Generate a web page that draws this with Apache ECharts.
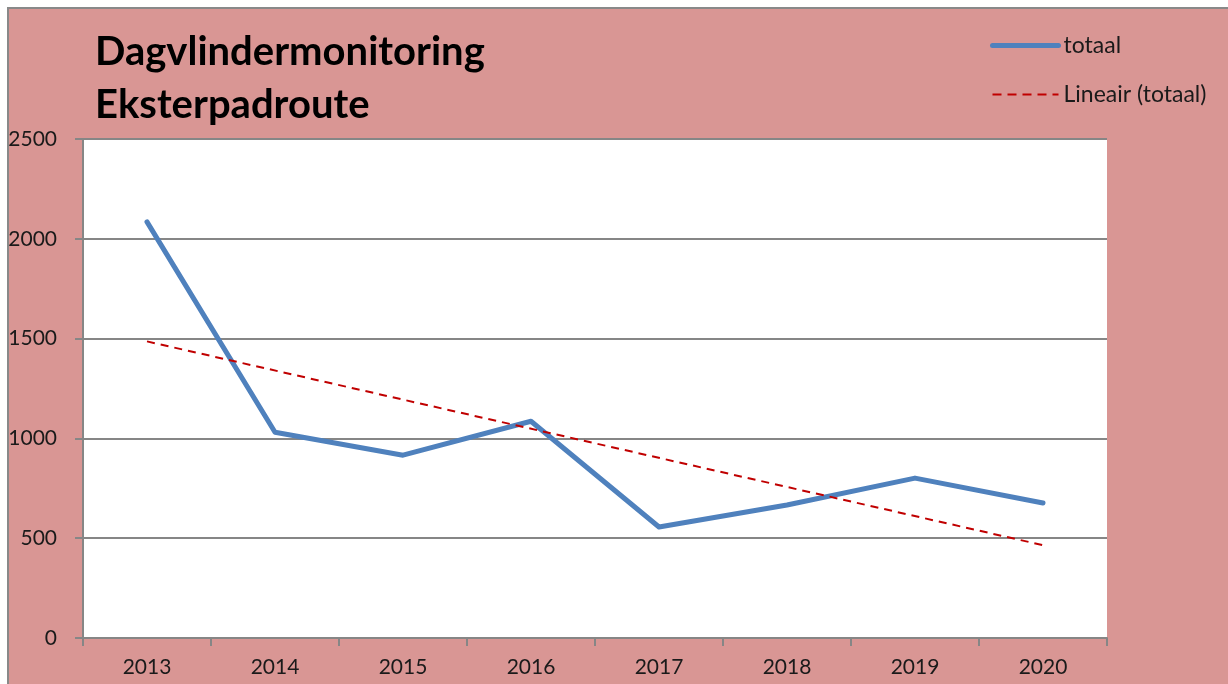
<!DOCTYPE html>
<html>
<head>
<meta charset="utf-8">
<script src="https://cdn.jsdelivr.net/npm/echarts@6/dist/echarts.min.js"></script>
<style>
	html, body { margin: 0; padding: 0; background: #fff; overflow: hidden; }
	#chart {
		position: absolute; left: 7px; top: 7px;
		width: 1221px; height: 677px;
		border-left: 2px solid #898989; border-top: 2px solid #898989;
		background: #D99694;
	}
</style>
</head>
<body>
<div id="chart"></div>
<script>
var years = ['2013', '2014', '2015', '2016', '2017', '2018', '2019', '2020'];
var totaal = [2085, 1031, 916, 1086, 556, 666, 801, 676];
// trendline endpoints (2013 .. 2020)
var lineair = [1486, null, null, null, null, null, null, 465];
var yTicks = { min: 0, max: 2500, interval: 500 };

var chartInit = echarts.init(document.getElementById('chart'));
var font = 'Lato, "Open Sans", sans-serif';

var option = {
	backgroundColor: 'transparent',
	animation: false,
	title: {
		text: 'Dagvlindermonitoring\nEksterpadroute',
		left: 81,
		top: 12,
		textStyle: {
			fontFamily: font,
			fontSize: 40,
			fontWeight: 'bold',
			color: '#000',
			lineHeight: 53
		}
	},
	legend: {
		orient: 'vertical',
		left: 976,
		top: 20,
		padding: 5,
		itemWidth: 66,
		itemHeight: 14,
		itemGap: 26,
		itemStyle: { opacity: 0 },
		textStyle: { fontFamily: font, fontSize: 23, color: '#1a1a1a' },
		data: [
			{ name: 'totaal', lineStyle: { width: 5, color: '#4F81BD', cap: 'round' } },
			{ name: 'Lineair (totaal)', lineStyle: { width: 2, color: '#C00000', type: [9, 6] } }
		]
	},
	grid: {
		left: 74,
		top: 130,
		right: 123,
		bottom: 48,
		outerBoundsMode: 'none',
		containLabel: false,
		show: true,
		backgroundColor: '#fff',
		borderWidth: 0
	},
	xAxis: {
		type: 'category',
		data: years,
		boundaryGap: true,
		axisLine: { lineStyle: { color: '#868686', width: 2 } },
		axisTick: { show: true, length: 8, lineStyle: { color: '#868686', width: 2 } },
		axisLabel: { fontFamily: font, fontSize: 21, color: '#1a1a1a', margin: 19 }
	},
	yAxis: {
		type: 'value',
		min: yTicks.min,
		max: yTicks.max,
		interval: yTicks.interval,
		axisLine: { show: true, lineStyle: { color: '#868686', width: 2 } },
		axisTick: { show: true, length: 8, lineStyle: { color: '#868686', width: 2 } },
		axisLabel: {
			fontFamily: font, fontSize: 21, color: '#1a1a1a', margin: 26,
			formatter: function(v){ return String(v); }
		},
		splitLine: { lineStyle: { color: '#868686', width: 2 } }
	},
	series: [
		{
			name: 'totaal',
			type: 'line',
			data: totaal,
			symbol: 'none',
			lineStyle: { color: '#4F81BD', width: 5, cap: 'round', join: 'round' },
			itemStyle: { color: '#4F81BD' }
		},
		{
			name: 'Lineair (totaal)',
			type: 'line',
			data: lineair,
			connectNulls: true,
			symbol: 'none',
			lineStyle: { color: '#C00000', width: 2, type: [8, 6] },
			itemStyle: { color: '#C00000' }
		}
	]
};
chartInit.setOption(option);
</script>
</body>
</html>
